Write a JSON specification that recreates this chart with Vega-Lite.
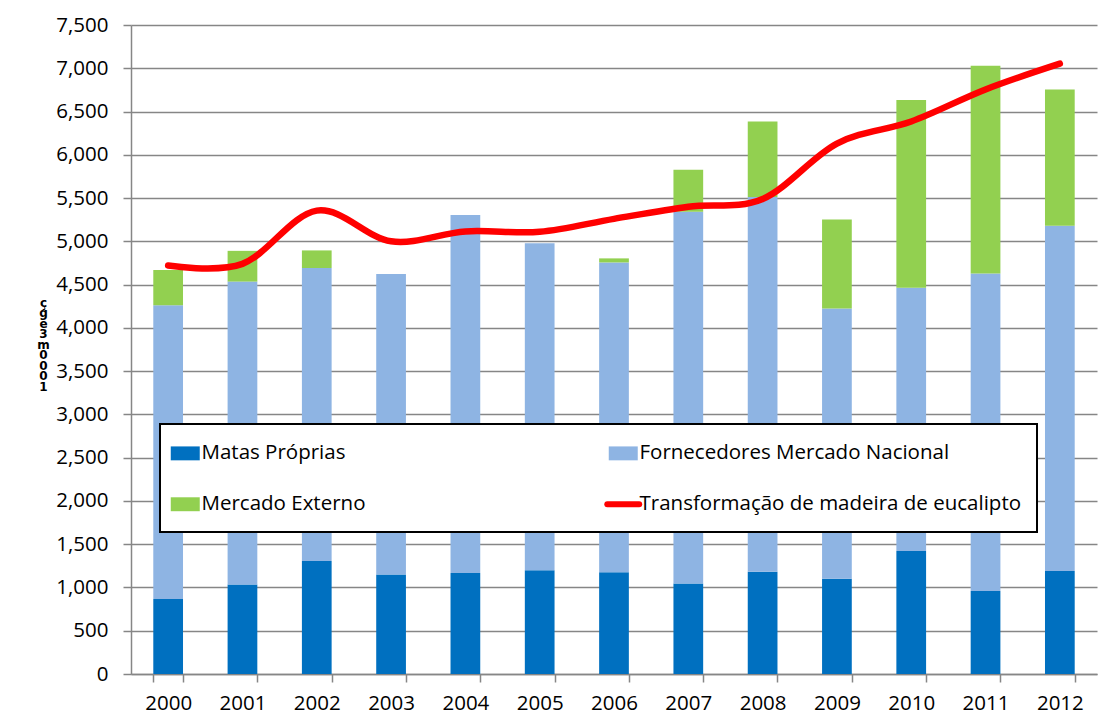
{
  "$schema": "https://vega.github.io/schema/vega-lite/v6.json",
  "autosize": {"type": "none"},
  "width": 966,
  "height": 649,
  "padding": {"left": 131, "top": 25, "right": 6, "bottom": 48},
  "background": "white",
  "title": {
    "text": "30)",
    "anchor": "start",
    "frame": "group",
    "orient": "top",
    "baseline": "alphabetic",
    "offset": 8,
    "dx": -121,
    "font": "Open Sans",
    "fontSize": 20,
    "fontWeight": "normal",
    "color": "black"
  },
  "datasets": {
    "barras": [
      {"ano": "2000", "serie": "Matas Próprias", "ordem": 1, "valor": 867},
      {"ano": "2000", "serie": "Fornecedores Mercado Nacional", "ordem": 2, "valor": 3395},
      {"ano": "2000", "serie": "Mercado Externo", "ordem": 3, "valor": 407},
      {"ano": "2001", "serie": "Matas Próprias", "ordem": 1, "valor": 1035},
      {"ano": "2001", "serie": "Fornecedores Mercado Nacional", "ordem": 2, "valor": 3500},
      {"ano": "2001", "serie": "Mercado Externo", "ordem": 3, "valor": 355},
      {"ano": "2002", "serie": "Matas Próprias", "ordem": 1, "valor": 1306},
      {"ano": "2002", "serie": "Fornecedores Mercado Nacional", "ordem": 2, "valor": 3386},
      {"ano": "2002", "serie": "Mercado Externo", "ordem": 3, "valor": 203},
      {"ano": "2003", "serie": "Matas Próprias", "ordem": 1, "valor": 1150},
      {"ano": "2003", "serie": "Fornecedores Mercado Nacional", "ordem": 2, "valor": 3473},
      {"ano": "2003", "serie": "Mercado Externo", "ordem": 3, "valor": 0},
      {"ano": "2004", "serie": "Matas Próprias", "ordem": 1, "valor": 1167},
      {"ano": "2004", "serie": "Fornecedores Mercado Nacional", "ordem": 2, "valor": 4138},
      {"ano": "2004", "serie": "Mercado Externo", "ordem": 3, "valor": 0},
      {"ano": "2005", "serie": "Matas Próprias", "ordem": 1, "valor": 1200},
      {"ano": "2005", "serie": "Fornecedores Mercado Nacional", "ordem": 2, "valor": 3779},
      {"ano": "2005", "serie": "Mercado Externo", "ordem": 3, "valor": 0},
      {"ano": "2006", "serie": "Matas Próprias", "ordem": 1, "valor": 1176},
      {"ano": "2006", "serie": "Fornecedores Mercado Nacional", "ordem": 2, "valor": 3580},
      {"ano": "2006", "serie": "Mercado Externo", "ordem": 3, "valor": 47},
      {"ano": "2007", "serie": "Matas Próprias", "ordem": 1, "valor": 1045},
      {"ano": "2007", "serie": "Fornecedores Mercado Nacional", "ordem": 2, "valor": 4297},
      {"ano": "2007", "serie": "Mercado Externo", "ordem": 3, "valor": 484},
      {"ano": "2008", "serie": "Matas Próprias", "ordem": 1, "valor": 1181},
      {"ano": "2008", "serie": "Fornecedores Mercado Nacional", "ordem": 2, "valor": 4330},
      {"ano": "2008", "serie": "Mercado Externo", "ordem": 3, "valor": 873},
      {"ano": "2009", "serie": "Matas Próprias", "ordem": 1, "valor": 1100},
      {"ano": "2009", "serie": "Fornecedores Mercado Nacional", "ordem": 2, "valor": 3123},
      {"ano": "2009", "serie": "Mercado Externo", "ordem": 3, "valor": 1028},
      {"ano": "2010", "serie": "Matas Próprias", "ordem": 1, "valor": 1421},
      {"ano": "2010", "serie": "Fornecedores Mercado Nacional", "ordem": 2, "valor": 3042},
      {"ano": "2010", "serie": "Mercado Externo", "ordem": 3, "valor": 2170},
      {"ano": "2011", "serie": "Matas Próprias", "ordem": 1, "valor": 960},
      {"ano": "2011", "serie": "Fornecedores Mercado Nacional", "ordem": 2, "valor": 3668},
      {"ano": "2011", "serie": "Mercado Externo", "ordem": 3, "valor": 2402},
      {"ano": "2012", "serie": "Matas Próprias", "ordem": 1, "valor": 1190},
      {"ano": "2012", "serie": "Fornecedores Mercado Nacional", "ordem": 2, "valor": 3991},
      {"ano": "2012", "serie": "Mercado Externo", "ordem": 3, "valor": 1575}
    ],
    "linha": [
      {"ano": "2000", "transformacao": 4720},
      {"ano": "2001", "transformacao": 4740},
      {"ano": "2002", "transformacao": 5355},
      {"ano": "2003", "transformacao": 5000},
      {"ano": "2004", "transformacao": 5115},
      {"ano": "2005", "transformacao": 5110},
      {"ano": "2006", "transformacao": 5260},
      {"ano": "2007", "transformacao": 5400},
      {"ano": "2008", "transformacao": 5490},
      {"ano": "2009", "transformacao": 6130},
      {"ano": "2010", "transformacao": 6385},
      {"ano": "2011", "transformacao": 6755},
      {"ano": "2012", "transformacao": 7053}
    ]
  },
  "layer": [
    {
      "data": {"name": "barras"},
      "mark": {"type": "bar"},
      "encoding": {
        "x": {
          "field": "ano",
          "type": "ordinal",
          "scale": {"paddingInner": 0.6, "paddingOuter": 0.3},
          "axis": {
            "title": null,
            "labelAngle": 0,
            "tickBand": "extent",
            "domainColor": "#868686",
            "domainWidth": 1.5,
            "tickColor": "#868686",
            "tickWidth": 1.5,
            "tickSize": 8,
            "labelPadding": 11,
            "labelFont": "Open Sans",
            "labelFontSize": 20.5,
            "labelColor": "black",
            "grid": false
          }
        },
        "y": {
          "field": "valor",
          "type": "quantitative",
          "stack": "zero",
          "scale": {"domain": [0, 7500], "nice": false},
          "axis": {
            "title": ["ç", "g", "e", "3", "m", "0", "0", "0", "1"],
            "titleAngle": 0,
            "titleX": -88,
            "titleY": 272,
            "titleAlign": "center",
            "titleBaseline": "top",
            "titleFont": "DejaVu Sans",
            "titleFontSize": 12,
            "titleFontWeight": "bold",
            "titleLineHeight": 10.5,
            "titleColor": "black",
            "values": [0, 500, 1000, 1500, 2000, 2500, 3000, 3500, 4000, 4500, 5000, 5500, 6000, 6500, 7000, 7500],
            "format": ",.0f",
            "domainColor": "#868686",
            "domainWidth": 1.5,
            "tickColor": "#868686",
            "tickWidth": 1.5,
            "tickSize": 8,
            "labelPadding": 15,
            "labelFont": "Open Sans",
            "labelFontSize": 20.5,
            "labelColor": "black",
            "grid": true,
            "gridColor": "#868686",
            "gridWidth": 1.5
          }
        },
        "color": {
          "field": "serie",
          "type": "nominal",
          "scale": {
            "domain": ["Matas Próprias", "Mercado Externo", "Fornecedores Mercado Nacional", "Transformação de madeira de eucalipto"],
            "range": ["#0070c0", "#92d050", "#8eb4e3", "#ff0000"]
          },
          "legend": {
            "title": " ",
            "titleFontSize": 4,
            "titlePadding": 0,
            "orient": "none",
            "legendX": 29,
            "legendY": 399,
            "columns": 2,
            "columnPadding": 229,
            "rowPadding": 28,
            "padding": 15,
            "strokeColor": "black",
            "fillColor": "white",
            "labelFont": "Open Sans",
            "labelFontSize": 20.5,
            "labelColor": "black",
            "labelOffset": 6,
            "labelLimit": 600,
            "symbolSize": 841,
            "encode": {
              "legend": {"update": {"strokeWidth": {"value": 2}}},
              "symbols": {
                "update": {
                  "shape": {"signal": "datum.value === 'Transformação de madeira de eucalipto' ? 'M-1.1,0H1.1' : 'M-1,-0.48H1V0.48H-1Z'"},
                  "fill": {"signal": "datum.value === 'Matas Próprias' ? '#0070c0' : datum.value === 'Fornecedores Mercado Nacional' ? '#8eb4e3' : datum.value === 'Mercado Externo' ? '#92d050' : 'transparent'"},
                  "stroke": {"signal": "datum.value === 'Transformação de madeira de eucalipto' ? '#ff0000' : 'transparent'"},
                  "strokeWidth": {"signal": "datum.value === 'Transformação de madeira de eucalipto' ? 6 : 0"},
                  "strokeCap": {"value": "round"},
                  "opacity": {"value": 1}
                }
              }
            }
          }
        },
        "order": {"field": "ordem", "type": "quantitative"}
      }
    },
    {
      "data": {"name": "linha"},
      "mark": {"type": "line", "interpolate": "cardinal", "strokeWidth": 6.5, "strokeCap": "round"},
      "encoding": {
        "x": {"field": "ano", "type": "ordinal"},
        "y": {"field": "transformacao", "type": "quantitative"},
        "color": {"datum": "Transformação de madeira de eucalipto"}
      }
    }
  ],
  "config": {
    "view": {"stroke": null}
  }
}
